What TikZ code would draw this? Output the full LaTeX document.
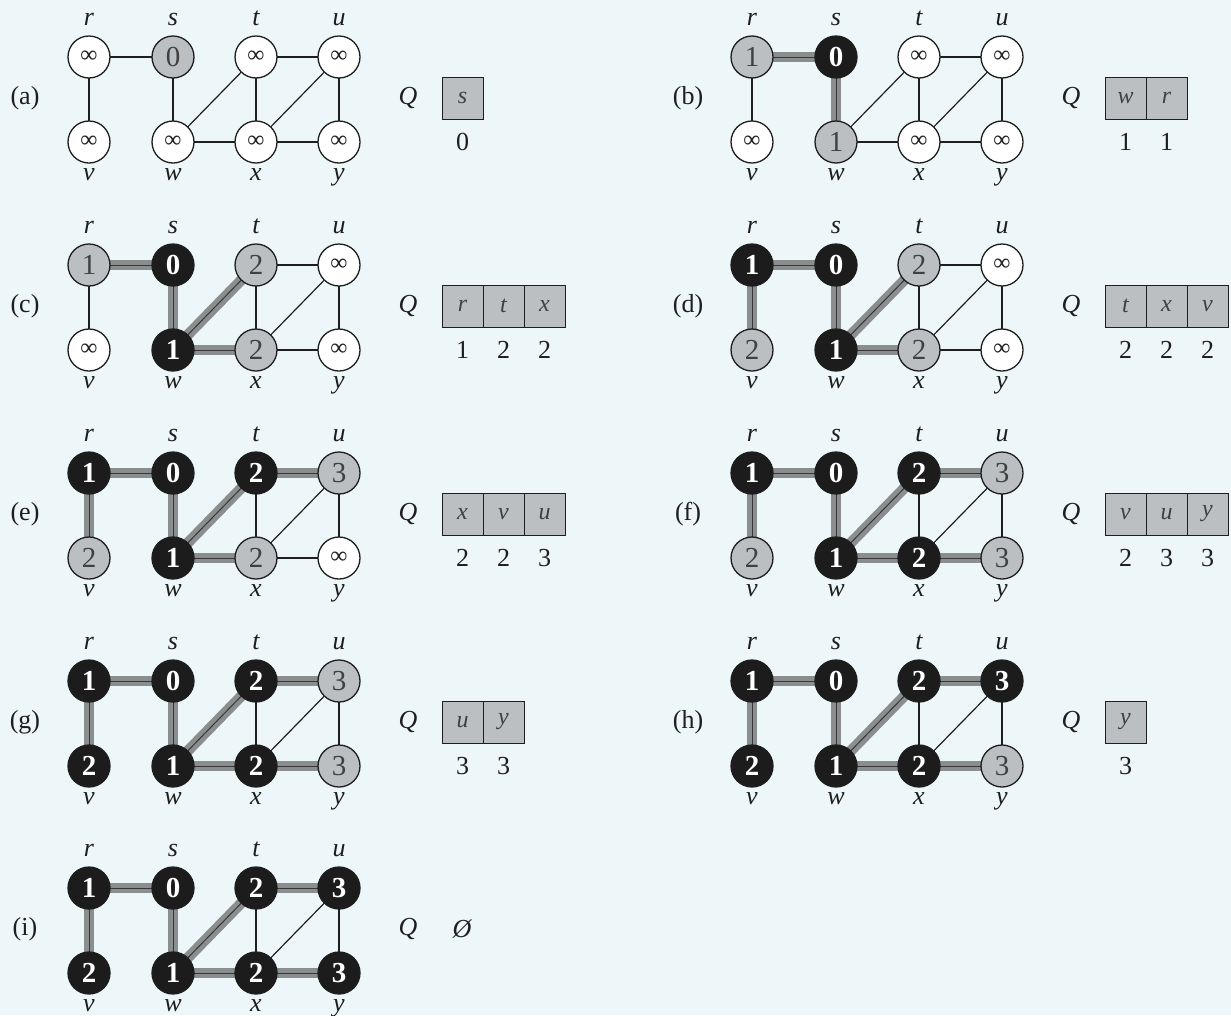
\documentclass[tikz,border=0pt]{standalone}
\usepackage{fontspec}
\setmainfont{Liberation Serif}
\pgfdeclarelayer{backdrop}
\pgfdeclarelayer{bg}
\pgfsetlayers{backdrop,bg,main}
\definecolor{bgc}{RGB}{237,246,249}
\definecolor{ngray}{RGB}{188,191,193}
\definecolor{nblack}{RGB}{28,28,28}
\definecolor{band}{RGB}{138,142,142}
\definecolor{bandc}{RGB}{55,55,55}
\definecolor{ink}{RGB}{30,30,30}
\tikzset{
 vtx/.style={circle,draw=ink,line width=1.3pt,minimum size=42pt,inner sep=0pt},
 wn/.style={vtx,fill=white,text=ink,font=\fontsize{24}{28}\selectfont},
 gn/.style={vtx,fill=ngray,text=ink!85,font=\fontsize{29}{32}\selectfont},
 bn/.style={vtx,fill=nblack,text=white,font=\fontsize{29}{32}\selectfont\bfseries},
 vlab/.style={anchor=base,inner sep=0pt,text=ink,font=\fontsize{26}{30}\selectfont\itshape},
 plab/.style={inner sep=0pt,text=ink,font=\fontsize{26}{30}\selectfont},
 qcell/.style={rectangle,draw=ink,line width=0.8pt,fill=ngray,minimum width=41pt,minimum height=42pt,inner sep=0pt,text=ink!85,font=\fontsize{24}{28}\selectfont\itshape},
 qnum/.style={anchor=base,inner sep=0pt,text=ink,font=\fontsize{26}{30}\selectfont},
 edge/.style={draw=ink,line width=1.2pt},
 treeband/.style={draw=band,line width=10.5pt},
 treeline/.style={draw=bandc,line width=1pt},
}
\newcommand\mk[3]{\mkx#1\relax{#2}{#3}}
\def\mkx#1#2\relax#3#4{\node[#1n] (#3) at (#4) {#2};}
\newcommand\verts[8]{\mk{#1}{r}{89,0}\mk{#2}{s}{173,0}\mk{#3}{t}{256,0}\mk{#4}{u}{339,0}%
 \mk{#5}{v}{89,85}\mk{#6}{w}{173,85}\mk{#7}{x}{256,85}\mk{#8}{y}{339,85}}
\newcommand\common[1]{%
 \node[plab] (pl) at (25,41) {#1};
 \foreach \n/\xx in {r/89,s/173,t/256,u/339} \node[vlab] (l\n) at (\xx,-32) {\n};
 \foreach \n/\xx in {v/89,w/173,x/256,y/339} \node[vlab] (l\n) at (\xx,123) {\n};
 \node[vlab,anchor=center] (lq) at (408,41) {Q};
 \begin{pgfonlayer}{bg}
 \foreach \a/\b in {r/s,r/v,s/w,w/t,w/x,t/x,t/u,x/u,x/y,u/y} \draw[edge] (\a.center) -- (\b.center);
 \end{pgfonlayer}}
\newcommand\tree[1]{%
 \begin{pgfonlayer}{bg}
 \foreach \a/\b in {#1} {\draw[treeband] (\a.center) -- (\b.center); \draw[treeline] (\a.center) -- (\b.center);}
 \end{pgfonlayer}}
\newcommand\queue[1]{%
 \foreach \c/\nm [count=\i] in {#1} {\node[qcell] (q\i) at (421.5+41*\i,41) {\c}; \node[qnum] (n\i) at (421.5+41*\i,93) {\nm};}}
\begin{document}
\begin{tikzpicture}[x=1pt,y=-1pt]
\begin{pgfonlayer}{backdrop}
\fill[bgc] (0,0) rectangle (1231,1015);
\end{pgfonlayer}
\useasboundingbox (0,0) rectangle (1231,1015);
% (a)
\begin{scope}[shift={(0,57)},name prefix=a-]
\verts{w∞}{g0}{w∞}{w∞}{w∞}{w∞}{w∞}{w∞}
\common{(a)}
\queue{s/0}
\end{scope}
% (b)
\begin{scope}[shift={(663,57)},name prefix=b-]
\verts{g1}{b0}{w∞}{w∞}{w∞}{g1}{w∞}{w∞}
\common{(b)}
\tree{r/s,s/w}
\queue{w/1,r/1}
\end{scope}
% (c)
\begin{scope}[shift={(0,265)},name prefix=c-]
\verts{g1}{b0}{g2}{w∞}{w∞}{b1}{g2}{w∞}
\common{(c)}
\tree{r/s,s/w,w/t,w/x}
\queue{r/1,t/2,x/2}
\end{scope}
% (d)
\begin{scope}[shift={(663,265)},name prefix=d-]
\verts{b1}{b0}{g2}{w∞}{g2}{b1}{g2}{w∞}
\common{(d)}
\tree{r/s,r/v,s/w,w/t,w/x}
\queue{t/2,x/2,v/2}
\end{scope}
% (e)
\begin{scope}[shift={(0,473)},name prefix=e-]
\verts{b1}{b0}{b2}{g3}{g2}{b1}{g2}{w∞}
\common{(e)}
\tree{r/s,r/v,s/w,w/t,w/x,t/u}
\queue{x/2,v/2,u/3}
\end{scope}
% (f)
\begin{scope}[shift={(663,473)},name prefix=f-]
\verts{b1}{b0}{b2}{g3}{g2}{b1}{b2}{g3}
\common{(f)}
\tree{r/s,r/v,s/w,w/t,w/x,t/u,x/y}
\queue{v/2,u/3,y/3}
\end{scope}
% (g)
\begin{scope}[shift={(0,681)},name prefix=g-]
\verts{b1}{b0}{b2}{g3}{b2}{b1}{b2}{g3}
\common{(g)}
\tree{r/s,r/v,s/w,w/t,w/x,t/u,x/y}
\queue{u/3,y/3}
\end{scope}
% (h)
\begin{scope}[shift={(663,681)},name prefix=h-]
\verts{b1}{b0}{b2}{b3}{b2}{b1}{b2}{g3}
\common{(h)}
\tree{r/s,r/v,s/w,w/t,w/x,t/u,x/y}
\queue{y/3}
\end{scope}
% (i)
\begin{scope}[shift={(0,888)},name prefix=i-]
\verts{b1}{b0}{b2}{b3}{b2}{b1}{b2}{b3}
\common{(i)}
\tree{r/s,r/v,s/w,w/t,w/x,t/u,x/y}
\node[plab,font=\fontsize{26}{30}\selectfont\itshape] (empty) at (462,41) {Ø};
\end{scope}
\end{tikzpicture}
\end{document}
